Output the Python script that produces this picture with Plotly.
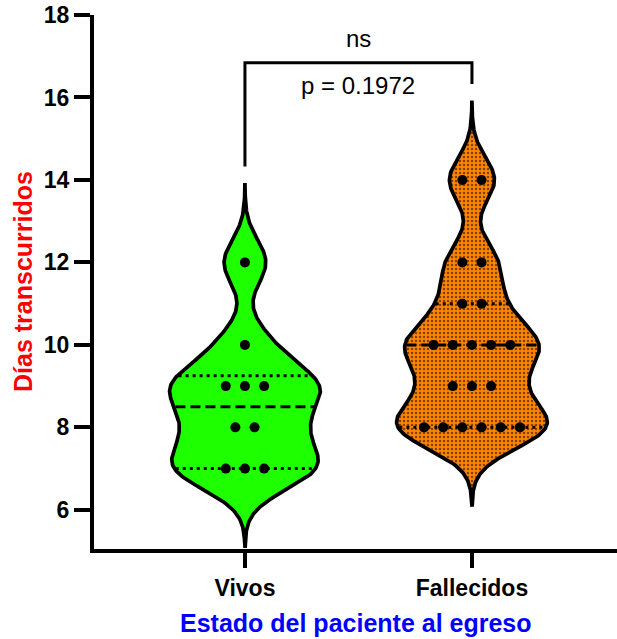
import numpy as np
import plotly.graph_objects as go

# ---------------- data ----------------
categories = ["Vivos", "Fallecidos"]
vivos_values = [7, 7, 7, 8, 8, 9, 9, 9, 10, 12]
fallecidos_values = [8, 8, 8, 8, 8, 8, 9, 9, 9, 10, 10, 10, 10, 10, 11, 11, 12, 12, 14, 14]
y_tick_values = [6, 8, 10, 12, 14, 16, 18]
significance_label = "ns"
p_value_label = "p = 0.1972"
x_title = "Estado del paciente al egreso"
y_title = "Días transcurridos"

# ---------------- style ----------------
fill_colors = ["#1EFF00", "#FF8400"]
bandwidth = 0.55
tail_cut = 3.5          # tail length in bandwidths
half_width = 0.332      # max half-width of a violin, in category units
dot_spacing = 0.0845
FONT = "Liberation Sans, Arial, sans-serif"

groups = [vivos_values, fallecidos_values]

fig = go.Figure()


def kde(vals, grid, h):
    vals = np.asarray(vals, dtype=float)
    return np.exp(-0.5 * ((grid[:, None] - vals[None, :]) / h) ** 2).sum(axis=1)


tops = []
for i, vals in enumerate(groups):
    vals = np.asarray(vals, dtype=float)
    lo = vals.min() - tail_cut * bandwidth
    hi = vals.max() + tail_cut * bandwidth
    tops.append(hi)
    grid = np.linspace(lo, hi, 400)
    dens = kde(vals, grid, bandwidth)
    peak = dens.max()
    hw = half_width * dens / peak
    xs = np.concatenate([i + hw, (i - hw)[::-1], [i + hw[0]]])
    ys = np.concatenate([grid, grid[::-1], [grid[0]]])
    tr = dict(x=xs, y=ys, mode="lines", fill="toself", fillcolor=fill_colors[i],
              line=dict(color="black", width=3.7), hoverinfo="skip", showlegend=False)
    if i == 1:
        tr["fillpattern"] = dict(shape=".", fgcolor="black", bgcolor=fill_colors[i],
                                 size=4, solidity=0.3, fillmode="overlay")
    fig.add_trace(go.Scatter(**tr))

    # quartile / median lines
    qs = np.percentile(vals, [25, 50, 75], method="weibull")
    for q, dash in zip(qs, ["3px,4px", "10px,5px", "3px,4px"]):
        w = half_width * kde(vals, np.array([q]), bandwidth)[0] / peak
        fig.add_trace(go.Scatter(x=[i - w + 0.006, i + w - 0.006], y=[q, q], mode="lines",
                                 line=dict(color="black", width=3, dash=dash),
                                 hoverinfo="skip", showlegend=False))

    # points
    px_, py_ = [], []
    uniq, counts = np.unique(vals, return_counts=True)
    for u, c in zip(uniq, counts):
        offs = (np.arange(c) - (c - 1) / 2) * dot_spacing
        px_.extend(i + offs)
        py_.extend([u] * c)
    fig.add_trace(go.Scatter(x=px_, y=py_, mode="markers",
                             marker=dict(color="black", size=10),
                             hoverinfo="skip", showlegend=False))

# significance bracket
bracket_y = 16.84
leg_gap = 0.4
fig.add_trace(go.Scatter(x=[0, 0, 1, 1],
                         y=[tops[0] + leg_gap, bracket_y, bracket_y, tops[1] + leg_gap],
                         mode="lines", line=dict(color="black", width=3),
                         hoverinfo="skip", showlegend=False))

fig.add_annotation(x=0.5, y=17.42, xref="x", yref="y", text=significance_label,
                   showarrow=False, xanchor="center", yanchor="middle",
                   font=dict(family=FONT, size=24, color="black"))
fig.add_annotation(x=0.5, y=16.3, xref="x", yref="y", text=p_value_label,
                   showarrow=False, xanchor="center", yanchor="middle",
                   font=dict(family=FONT, size=24, color="black"))

# axis titles
fig.add_annotation(x=0, y=0.5, xref="paper", yref="paper", xshift=-71, textangle=-90,
                   xanchor="center", yanchor="middle",
                   text=y_title, showarrow=False,
                   font=dict(family=FONT, size=25, color="#FF0000", weight="bold"))
fig.add_annotation(x=0.5, y=0, xref="paper", yref="paper", yshift=-74,
                   xanchor="center", yanchor="middle",
                   text=x_title, showarrow=False,
                   font=dict(family=FONT, size=25, color="#0000FF", weight="bold"))

fig.update_layout(
    width=617, height=639,
    margin=dict(l=94, r=0, t=15, b=90, autoexpand=False),
    paper_bgcolor="white", plot_bgcolor="white",
    xaxis=dict(range=[-0.665, 1.639], tickvals=[0, 1], ticktext=categories,
               showline=True, linecolor="black", linewidth=4, ticks="outside",
               ticklen=15, tickwidth=4, tickcolor="black", showgrid=False, zeroline=False,
               tickfont=dict(family=FONT, size=23, color="black", weight="bold")),
    yaxis=dict(range=[5.05, 18], tickvals=y_tick_values,
               showline=True, linecolor="black", linewidth=4, ticks="outside",
               ticklen=16, tickwidth=4, tickcolor="black", showgrid=False, zeroline=False,
               tickfont=dict(family=FONT, size=23, color="black", weight="bold")),
)

fig.write_html("out.html", config={"displayModeBar": False},
               post_script="document.body.style.margin='0px';document.body.style.overflow='hidden';")
